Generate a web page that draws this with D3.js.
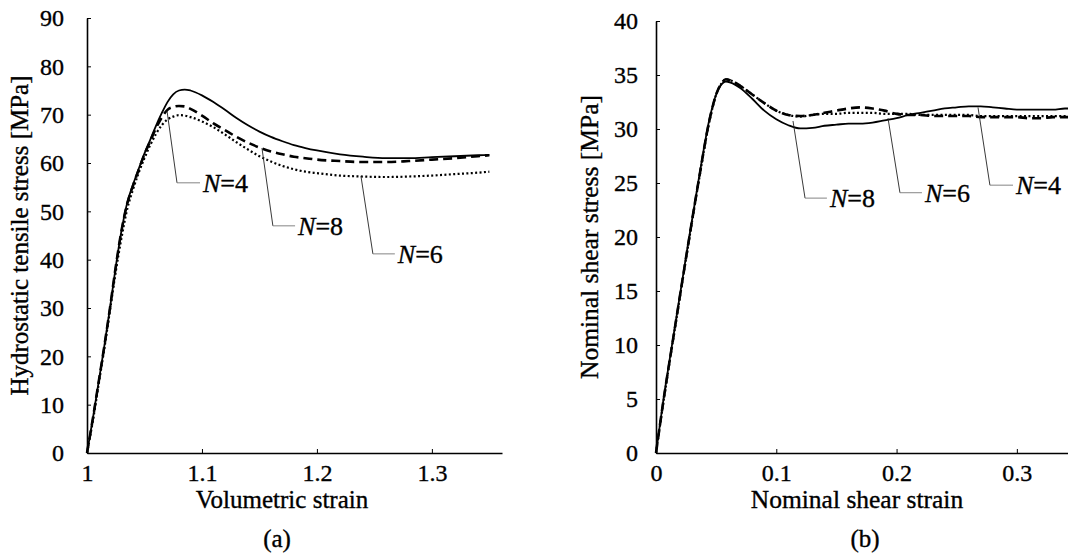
<!DOCTYPE html>
<html>
<head>
<meta charset="utf-8">
<script src="https://cdn.jsdelivr.net/npm/d3@7"></script>
<style>
  body { margin: 0; background: #fff; }
  svg { display: block; }
</style>
</head>
<body>
<svg id="fig" width="1068" height="557"></svg>
<script>
const serif = "Liberation Serif, Times New Roman, serif";

// ---- (a) hydrostatic tension ----
const volStrain = [1.000, 1.005, 1.010, 1.015, 1.020, 1.025, 1.030, 1.035, 1.040, 1.045, 1.050, 1.055,
                   1.060, 1.065, 1.070, 1.075, 1.080, 1.085, 1.090, 1.100, 1.110, 1.120, 1.130, 1.140,
                   1.150, 1.160, 1.170, 1.180, 1.190, 1.200, 1.220, 1.240, 1.260, 1.280, 1.300, 1.320,
                   1.340, 1.350];
const hydroN4 = [0, 7, 14.5, 22, 30, 38.5, 46, 51.8, 55.5, 58.8, 62, 64.8,
                 67.7, 70.3, 72.6, 74.2, 75, 75.2, 75, 74, 72.6, 71, 69.3, 67.8,
                 66.5, 65.4, 64.5, 63.7, 63.1, 62.6, 61.8, 61.3, 61.0, 61.0, 61.2, 61.4,
                 61.6, 61.7];
const hydroN8 = [0, 7, 14.5, 22, 30, 38.5, 46, 51.6, 55.3, 58.6, 61.8, 64.5,
                 67.2, 69.4, 71, 71.6, 71.8, 71.7, 71.2, 69.8, 68.2, 66.8, 65.4, 64.2,
                 63.2, 62.4, 61.8, 61.3, 61.0, 60.7, 60.4, 60.2, 60.2, 60.4, 60.7, 61.0,
                 61.4, 61.6];
const hydroN6 = [0, 6.5, 14, 21.5, 29.5, 37.5, 44.5, 50.5, 54.5, 58, 61, 63.7,
                 66, 67.8, 69, 69.6, 69.9, 69.8, 69.5, 68.6, 67.4, 65.9, 64.3, 62.8,
                 61.4, 60.3, 59.4, 58.7, 58.2, 57.9, 57.4, 57.2, 57.1, 57.2, 57.4, 57.7,
                 58.0, 58.2];
const hydroTicksX = [1, 1.1, 1.2, 1.3];
const hydroTicksY = [0, 10, 20, 30, 40, 50, 60, 70, 80, 90];
// label leaders: anchor on curve, elbow, end of horizontal stroke (data units)
const hydroLabels = [
  { n: "4", ax: 1.0696, ay: 70.8, ex: 1.0783, ey: 55.9, hx: 1.0983 },
  { n: "8", ax: 1.1522, ay: 63.1, ex: 1.1617, ey: 47.0, hx: 1.1810 },
  { n: "6", ax: 1.2383, ay: 57.3, ex: 1.2487, ey: 41.2, hx: 1.2678 }
];

// ---- (b) simple shear ----
const shearStrain = [0, 0.006, 0.015, 0.025, 0.035, 0.045, 0.050, 0.055, 0.058, 0.062, 0.070, 0.080,
                     0.090, 0.100, 0.110, 0.120, 0.130, 0.140, 0.150, 0.160, 0.170, 0.180, 0.190, 0.200,
                     0.210, 0.220, 0.230, 0.240, 0.250, 0.260, 0.270, 0.280, 0.290, 0.300, 0.310, 0.320,
                     0.330, 0.340, 0.350];
const shearN4 = [0, 4.8, 11.2, 18.2, 25, 31.2, 33.2, 34.2, 34.4, 34.3, 33.8, 32.8,
                 31.7, 30.9, 30.35, 30.05, 30.1, 30.3, 30.4, 30.5, 30.5, 30.6, 30.8, 31.0,
                 31.3, 31.5, 31.7, 31.9, 32.0, 32.1, 32.1, 32.0, 31.9, 31.8, 31.8, 31.8,
                 31.8, 31.9, 31.9];
const shearN8 = [0, 4.7, 11.1, 18.1, 24.9, 31.1, 33.2, 34.3, 34.6, 34.5, 34.0, 33.2,
                 32.4, 31.7, 31.3, 31.2, 31.3, 31.5, 31.7, 31.9, 32.0, 31.9, 31.7, 31.4,
                 31.3, 31.3, 31.2, 31.2, 31.2, 31.2, 31.1, 31.1, 31.1, 31.1, 31.0, 31.0,
                 31.1, 31.1, 31.1];
const shearN6 = [0, 4.6, 11.0, 18.0, 24.8, 31.0, 33.2, 34.3, 34.6, 34.5, 34.0, 33.2,
                 32.4, 31.7, 31.3, 31.15, 31.3, 31.4, 31.4, 31.5, 31.5, 31.5, 31.4, 31.4,
                 31.4, 31.3, 31.3, 31.3, 31.3, 31.3, 31.2, 31.2, 31.2, 31.2, 31.2, 31.2,
                 31.2, 31.2, 31.2];
const shearTicksX = [0, 0.1, 0.2, 0.3];
const shearTicksY = [0, 5, 10, 15, 20, 25, 30, 35, 40];
const shearLabels = [
  { n: "8", ax: 0.1139, ay: 30.74, ex: 0.1239, ey: 23.6, hx: 0.1421 },
  { n: "6", ax: 0.1929, ay: 31.0, ex: 0.2028, ey: 24.1, hx: 0.2211 },
  { n: "4", ax: 0.2677, ay: 32.0, ex: 0.2776, ey: 24.8, hx: 0.2968 }
];

const lineStyles = {
  N4: { dash: null, width: 1.8 },
  N8: { dash: "9,5", width: 2.6 },
  N6: { dash: "2,2.4", width: 2.2 }
};

// the scanned original has slightly heavy type, so texts get a thin outline
const svg = d3.select("#fig").attr("font-family", serif);
svg.append("rect").attr("width", 1068).attr("height", 557).attr("fill", "#fff");

function inkText(sel) {
  return sel.attr("fill", "#000").attr("stroke", "#000").attr("stroke-width", 0.35);
}

function drawPanel(cfg) {
  const x = d3.scaleLinear().domain(cfg.xDomain).range(cfg.xRange);
  const y = d3.scaleLinear().domain(cfg.yDomain).range(cfg.yRange);
  const g = svg.append("g");

  // axes with short inward ticks
  const xAxis = g.append("g")
    .attr("transform", "translate(0," + cfg.yRange[0] + ")")
    .call(d3.axisBottom(x).tickValues(cfg.ticksX).tickSize(-4).tickSizeOuter(0)
      .tickPadding(11).tickFormat(d3.format("")));
  const yAxis = g.append("g")
    .attr("transform", "translate(" + cfg.xRange[0] + ",0)")
    .call(d3.axisLeft(y).tickValues(cfg.ticksY).tickSize(-4).tickSizeOuter(0)
      .tickPadding(cfg.yPad));
  [xAxis, yAxis].forEach(a => {
    a.attr("font-family", serif).attr("font-size", 24);
    a.select(".domain").attr("stroke", "#000").attr("stroke-width", 1.6);
    a.selectAll(".tick line").attr("stroke", "#000").attr("stroke-width", 1);
    inkText(a.selectAll(".tick text"));
  });

  // curves
  const line = d3.line()
    .x(d => x(d[0])).y(d => y(d[1]))
    .curve(d3.curveMonotoneX);
  cfg.series.forEach(s => {
    const st = lineStyles[s.key];
    g.append("path")
      .datum(cfg.xs.map((v, i) => [v, s.values[i]]))
      .attr("fill", "none")
      .attr("stroke", "#000")
      .attr("stroke-width", st.width)
      .attr("stroke-dasharray", st.dash)
      .attr("d", line);
  });

  // leader lines + labels
  cfg.labels.forEach(l => {
    g.append("line")
      .attr("x1", x(l.ax)).attr("y1", y(l.ay))
      .attr("x2", x(l.ex)).attr("y2", y(l.ey))
      .attr("stroke", "#222").attr("stroke-width", 0.9);
    g.append("line")
      .attr("x1", x(l.ex)).attr("y1", y(l.ey))
      .attr("x2", x(l.hx)).attr("y2", y(l.ey))
      .attr("stroke", "#777").attr("stroke-width", 0.9);
    const t = inkText(g.append("text"))
      .attr("x", x(l.hx) + 3).attr("y", y(l.ey)).attr("dy", "0.35em")
      .attr("font-size", 26);
    t.append("tspan").attr("font-style", "italic").text("N");
    t.append("tspan").text("=" + l.n);
  });

  // titles
  inkText(g.append("text"))
    .attr("x", cfg.xTitleX).attr("y", 508)
    .attr("text-anchor", "middle").attr("font-size", cfg.titleSize)
    .text(cfg.xTitle);
  inkText(g.append("text"))
    .attr("transform", "translate(" + cfg.yTitleX + "," + (cfg.yRange[0] + cfg.yRange[1]) / 2 + ") rotate(-90)")
    .attr("text-anchor", "middle").attr("font-size", cfg.titleSize)
    .text(cfg.yTitle);
  inkText(g.append("text"))
    .attr("x", cfg.capX).attr("y", 547)
    .attr("text-anchor", "middle").attr("font-size", 25)
    .text(cfg.caption);
}

drawPanel({
  xDomain: [1, 1.361], xRange: [87, 502],
  yDomain: [0, 90], yRange: [453, 18],
  ticksX: hydroTicksX, ticksY: hydroTicksY, yPad: 23,
  xs: volStrain,
  series: [
    { key: "N6", values: hydroN6 },
    { key: "N8", values: hydroN8 },
    { key: "N4", values: hydroN4 }
  ],
  labels: hydroLabels,
  titleSize: 25,
  xTitle: "Volumetric strain", xTitleX: 282,
  yTitle: "Hydrostatic tensile stress [MPa]", yTitleX: 28,
  caption: "(a)", capX: 277
});

drawPanel({
  xDomain: [0, 0.35], xRange: [656, 1077],
  yDomain: [0, 40], yRange: [453, 21],
  ticksX: shearTicksX, ticksY: shearTicksY, yPad: 18,
  xs: shearStrain,
  series: [
    { key: "N6", values: shearN6 },
    { key: "N8", values: shearN8 },
    { key: "N4", values: shearN4 }
  ],
  labels: shearLabels,
  titleSize: 25.5,
  xTitle: "Nominal shear strain", xTitleX: 857,
  yTitle: "Nominal shear stress [MPa]", yTitleX: 598,
  caption: "(b)", capX: 865
});
</script>
</body>
</html>
